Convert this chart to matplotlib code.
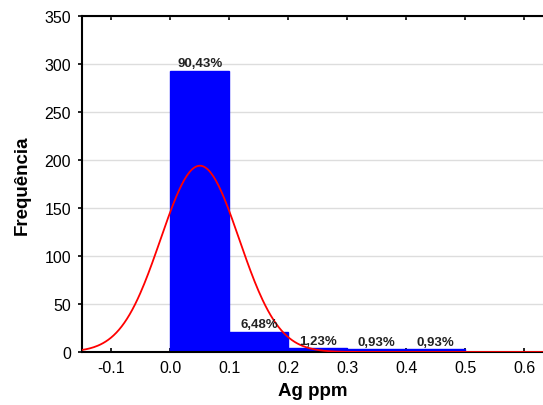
import numpy as np
import matplotlib.pyplot as plt

plt.rcParams['font.family'] = ['Liberation Sans', 'DejaVu Sans']

# histogram bins (left edges) and counts
bin_left = [-0.2, -0.1, 0.0, 0.1, 0.2, 0.3, 0.4, 0.5, 0.6]
counts = [0, 0, 293, 21, 4, 3, 3, 0, 0]
pct_labels = ['', '', '90,43%', '6,48%', '1,23%', '0,93%', '0,93%', '', '']

# fitted normal curve parameters
n_total = 324
mu = 0.05
sigma = 0.0666
bin_w = 0.1

fig = plt.figure(figsize=(5.43, 4.06), dpi=100)
ax = fig.add_axes([0.151, 0.1305, 0.849, 0.8275])

edge_cols = ['#0000ff' if c > 0 else '#000060' for c in counts]
ax.bar(bin_left, counts, width=bin_w, align='edge', color='#0000ff',
       edgecolor=edge_cols, linewidth=1.0, zorder=2)

for x, c, t in zip(bin_left, counts, pct_labels):
    if t:
        ax.text(x + bin_w / 2, c + 1.5, t, ha='center', va='bottom',
                fontsize=9.5, fontweight='bold', color='#222222', zorder=4)

xs = np.linspace(-0.2, 0.7, 400)
ys = n_total * bin_w / (sigma * np.sqrt(2 * np.pi)) * np.exp(-(xs - mu) ** 2 / (2 * sigma ** 2))
ax.plot(xs, ys, color='red', linewidth=1.3, zorder=3)

ax.set_xlim(-0.15, 0.632)
ax.set_ylim(0, 350)
ax.set_xticks([-0.1, 0.0, 0.1, 0.2, 0.3, 0.4, 0.5, 0.6])
ax.set_xticklabels(['-0.1', '0.0', '0.1', '0.2', '0.3', '0.4', '0.5', '0.6'])
ax.set_yticks(range(0, 351, 50))
ax.yaxis.grid(True, color='#dddddd', linewidth=1, zorder=0)
ax.set_axisbelow(True)

ax.tick_params(axis='both', labelsize=11.5, length=3, width=1.2, color='black')
ax.tick_params(axis='x', top=True, direction='in', pad=6)
ax.tick_params(axis='y', direction='out', pad=5)
for s in ['left', 'bottom', 'top']:
    ax.spines[s].set_linewidth(1.5)
ax.spines['right'].set_visible(False)

ax.set_xlabel('Ag ppm', fontsize=13.5, fontweight='bold', labelpad=5)
ax.set_ylabel('Frequência', fontsize=13.5, fontweight='bold', labelpad=10)

fig.savefig('out.png', dpi=100)
